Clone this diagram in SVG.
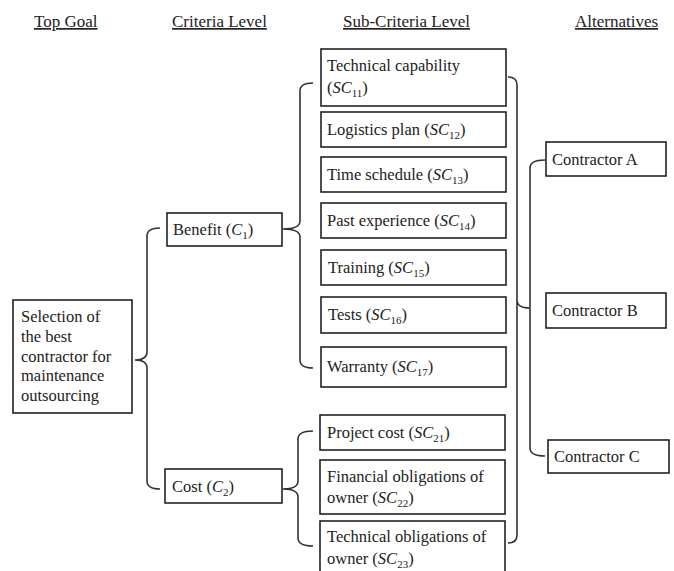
<svg xmlns="http://www.w3.org/2000/svg" width="674" height="571" viewBox="0 0 674 571" font-family="Liberation Serif, Times New Roman, serif">
<style>
text{fill:#222;font-size:16.5px}
.h{font-size:17px;text-decoration:underline}
.m{font-style:italic}
.s{font-size:11px}
rect{fill:#fff;stroke:#222;stroke-width:1.6}
.c path{fill:none;stroke:#333;stroke-width:1.6}
</style>
<rect x="0" y="0" width="674" height="571" style="stroke:none"/>
<g id="headers" font-family="Liberation Serif, serif">
<text class="h" x="34" y="27">Top Goal</text>
<text class="h" x="172" y="27">Criteria Level</text>
<text class="h" x="343" y="27">Sub-Criteria Level</text>
<text class="h" x="575" y="27">Alternatives</text>
</g>
<g class="c" id="connectors">
<path d="M160,228 Q147,228 147,236 V352 Q147,360 135,360 Q147,360 147,368 V481 Q147,489 160,489"/>
<path d="M313,83 Q300,83 300,91 V221 Q300,229 283,229 Q300,229 300,237 V360 Q300,368 313,368"/>
<path d="M313,431 Q298,431 298,439 V481 Q298,489 283,489 Q298,489 298,497 V538 Q298,546 313,546"/>
<path d="M508,77 Q517,77 517,85 V300 Q517,308 530,308 M517,300 Q517,308 517,316 V535 Q517,543 508,543"/>
<path d="M545,160 Q530,160 530,168 V448 Q530,456 545,456"/>
</g>
<g font-family="Liberation Serif, serif">
<g id="goal"><rect x="13" y="300" width="119" height="113"/>
<text x="21" y="322">Selection of</text><text x="21" y="342">the best</text><text x="21" y="362">contractor for</text><text x="21" y="381">maintenance</text><text x="21" y="401">outsourcing</text></g>
<g id="c1"><rect x="167" y="213" width="115" height="33"/><text x="173" y="235">Benefit (<tspan class="m">C</tspan><tspan class="s" dy="4">1</tspan><tspan dy="-4">)</tspan></text></g>
<g id="c2"><rect x="165" y="469" width="117" height="34"/><text x="172" y="492">Cost (<tspan class="m">C</tspan><tspan class="s" dy="4">2</tspan><tspan dy="-4">)</tspan></text></g>
<g id="sc11"><rect x="321" y="49" width="185" height="57"/><text x="327" y="71">Technical capability</text><text x="327" y="93">(<tspan class="m">SC</tspan><tspan class="s" dy="4">11</tspan><tspan dy="-4">)</tspan></text></g>
<g id="sc12"><rect x="321" y="112" width="185" height="35"/><text x="327" y="135">Logistics plan  (<tspan class="m">SC</tspan><tspan class="s" dy="4">12</tspan><tspan dy="-4">)</tspan></text></g>
<g id="sc13"><rect x="321" y="157" width="185" height="35"/><text x="327" y="180">Time schedule (<tspan class="m">SC</tspan><tspan class="s" dy="4">13</tspan><tspan dy="-4">)</tspan></text></g>
<g id="sc14"><rect x="321" y="203" width="185" height="35"/><text x="327" y="226">Past experience (<tspan class="m">SC</tspan><tspan class="s" dy="4">14</tspan><tspan dy="-4">)</tspan></text></g>
<g id="sc15"><rect x="321" y="250" width="185" height="35"/><text x="328" y="273">Training (<tspan class="m">SC</tspan><tspan class="s" dy="4">15</tspan><tspan dy="-4">)</tspan></text></g>
<g id="sc16"><rect x="321" y="297" width="185" height="36"/><text x="328" y="320">Tests (<tspan class="m">SC</tspan><tspan class="s" dy="4">16</tspan><tspan dy="-4">)</tspan></text></g>
<g id="sc17"><rect x="321" y="347" width="185" height="40"/><text x="327" y="372">Warranty (<tspan class="m">SC</tspan><tspan class="s" dy="4">17</tspan><tspan dy="-4">)</tspan></text></g>
<g id="sc21"><rect x="320" y="415" width="185" height="35"/><text x="327" y="438">Project cost (<tspan class="m">SC</tspan><tspan class="s" dy="4">21</tspan><tspan dy="-4">)</tspan></text></g>
<g id="sc22"><rect x="320" y="460" width="185" height="54"/><text x="327" y="482">Financial obligations of</text><text x="327" y="503">owner (<tspan class="m">SC</tspan><tspan class="s" dy="4">22</tspan><tspan dy="-4">)</tspan></text></g>
<g id="sc23"><rect x="320" y="521" width="185" height="56"/><text x="327" y="542">Technical obligations of</text><text x="327" y="564">owner (<tspan class="m">SC</tspan><tspan class="s" dy="4">23</tspan><tspan dy="-4">)</tspan></text></g>
<g id="altA"><rect x="546" y="142" width="120" height="34"/><text x="552" y="165">Contractor A</text></g>
<g id="altB"><rect x="546" y="293" width="120" height="35"/><text x="552" y="316">Contractor B</text></g>
<g id="altC"><rect x="548" y="440" width="121" height="33"/><text x="554" y="462">Contractor C</text></g>
</g>
</svg>
